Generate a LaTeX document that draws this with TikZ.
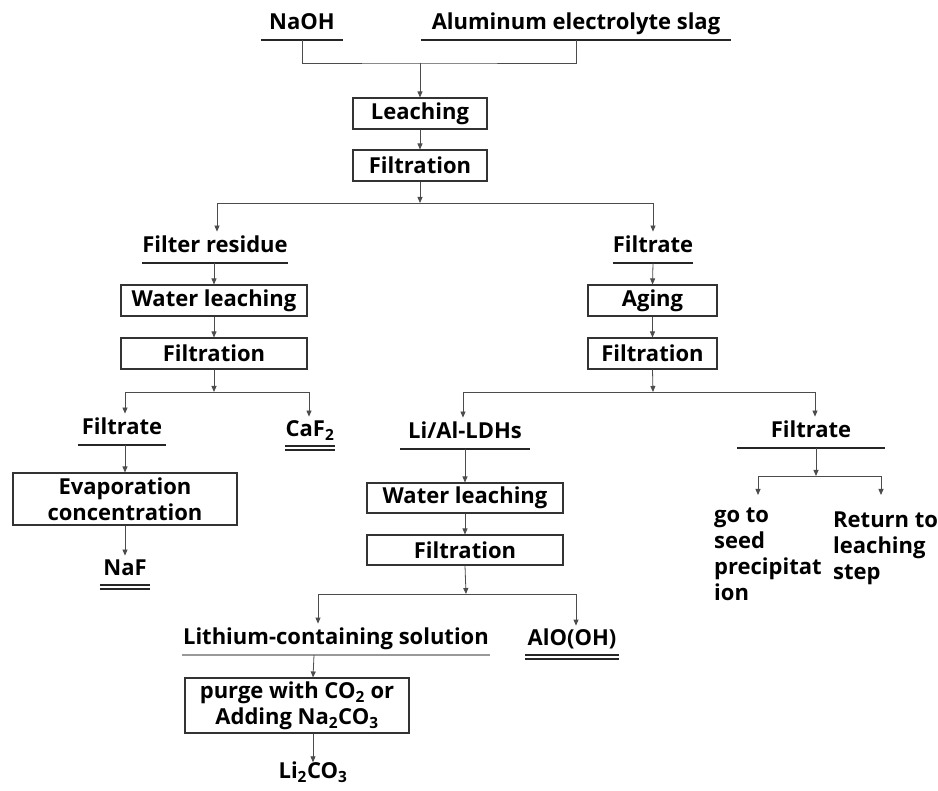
\documentclass[tikz,border=0pt]{standalone}
\usepackage{fontspec}
\setmainfont{Open Sans}
\usetikzlibrary{arrows.meta}

\begin{document}
\begin{tikzpicture}[
    x=1pt, y=-1pt,
    >={Triangle[length=6pt,width=5pt]},
    line/.style={draw=black!70, line width=0.8pt},
    arr/.style={line, ->},
    ul/.style={draw=black!85, line width=1.3pt},
    stepbox/.style={draw=black!80, line width=1.1pt, rectangle, minimum height=31, inner sep=0, align=center, font=\bfseries\fontsize{22}{26}\selectfont},
    prod/.style={anchor=south, inner xsep=0, inner ysep=5, text height=16, text depth=5, font=\bfseries\fontsize{22}{26}\selectfont},
    note/.style={anchor=north west, inner sep=0, align=left, font=\bfseries\fontsize{22}{26}\selectfont}
]
\useasboundingbox (0,0) rectangle (938,791);

% Raw materials
\node[prod, minimum width=82] (naoh) at (302,40) {NaOH};
\node[prod, minimum width=310] (als) at (576,40) {Aluminum electrolyte slag};
\draw[ul] (naoh.south west) -- (naoh.south east);
\draw[ul] (als.south west) -- (als.south east);
\coordinate (j0) at (420,63);

% Alkaline leaching
\node[stepbox, minimum width=134] (leach) at (420,113.5) {Leaching};
\node[stepbox, minimum width=134] (filt1) at (420,165.5) {Filtration};
\coordinate (b1) at (420,203);

% Left branch
\node[prod, minimum width=144] (res) at (215,263) {Filter residue};
\draw[ul] (res.south west) -- (res.south east);
\node[stepbox, minimum width=186] (wl1) at (214,300.5) {Water leaching};
\node[stepbox, minimum width=186] (filt2) at (214,353.5) {Filtration};
\coordinate (b2) at (214,392);
\node[prod, minimum width=88] (fil2) at (122,445) {Filtrate};
\draw[ul] (fil2.south west) -- (fil2.south east);
\node[prod, minimum width=47, inner ysep=4] (caf) at (310,446) {CaF\textsubscript{2}};
\draw[ul] (caf.south west) -- (caf.south east);
\draw[ul] ([yshift=-4]caf.south west) -- ([yshift=-4]caf.south east);
\node[stepbox, minimum width=224, minimum height=52] (evap) at (125,499) {Evaporation\\concentration};
\node[prod, minimum width=50, inner ysep=4] (naf) at (125,585) {NaF};
\draw[ul] (naf.south west) -- (naf.south east);
\draw[ul] ([yshift=-4]naf.south west) -- ([yshift=-4]naf.south east);

% Right branch
\node[prod, minimum width=78] (fil1) at (653,263) {Filtrate};
\draw[ul] (fil1.south west) -- (fil1.south east);
\node[stepbox, minimum width=129] (aging) at (652.5,300.5) {Aging};
\node[stepbox, minimum width=129] (filt3) at (652.5,353.5) {Filtration};
\coordinate (b3) at (653,392);
\node[prod, minimum width=130] (ldh) at (465,449) {Li/Al-LDHs};
\draw[ul] (ldh.south west) -- (ldh.south east);
\node[stepbox, minimum width=196, minimum height=30] (wl2) at (465,498) {Water leaching};
\node[stepbox, minimum width=196, minimum height=30] (filt4) at (465,550) {Filtration};
\coordinate (b4) at (466,594);
\node[prod, minimum width=308] (lis) at (336,655) {Lithium-containing solution};
\draw[ul, draw=black!40] (lis.south west) -- (lis.south east);
\node[prod, minimum width=93, inner ysep=4] (alo) at (572,655) {AlO(OH)};
\draw[ul] (alo.south west) -- (alo.south east);
\draw[ul] ([yshift=-4]alo.south west) -- ([yshift=-4]alo.south east);
\node[stepbox, minimum width=224, minimum height=55] (purge) at (297,705.5) {purge with CO\textsubscript{2} or\\Adding Na\textsubscript{2}CO\textsubscript{3}};
\node[prod, anchor=center, inner ysep=0] (li2) at (313,773) {Li\textsubscript{2}CO\textsubscript{3}};

% Second filtrate
\node[prod, minimum width=148] (fil3) at (811,448) {Filtrate};
\draw[ul] (fil3.south west) -- (fil3.south east);
\coordinate (b5) at (816,476);
\node[note] (go) at (714,508) {go to\\seed\\precipitat\\ion};
\node[note] (ret) at (833,512) {Return to\\leaching\\step};

% Connections
\draw[line] (naoh.south) |- (j0) -| (als.south);
\draw[arr] (j0) -- (leach.north);
\draw[arr] (leach.south) -- (filt1.north);
\draw[arr] (filt1.south) -- (b1);
\draw[arr] (b1) -| ([xshift=2]res.north);
\draw[arr] (b1) -| (fil1.north);

\draw[arr] (wl1.north |- res.south) -- (wl1.north);
\draw[arr] (wl1.south) -- (filt2.north);
\draw[arr] (filt2.south) -- (b2);
\draw[arr] (b2) -| ([xshift=3]fil2.north);
\draw[arr] (b2) -| ([xshift=-1]caf.north);
\draw[arr] (evap.north |- fil2.south) -- (evap.north);
\draw[arr] (evap.south) -- (naf.north);

\draw[arr] (fil1.south) -- (aging.north);
\draw[arr] (aging.south) -- (filt3.north);
\draw[arr] (filt3.south) -- (b3);
\draw[arr] (b3) -| ([xshift=-2]ldh.north);
\draw[arr] (b3) -| ([xshift=4]fil3.north);
\draw[arr] (ldh.south) -- (wl2.north);
\draw[arr] (wl2.south) -- (filt4.north);
\draw[arr] (filt4.south) -- (b4);
\draw[arr] (b4) -| ([xshift=-18]lis.north);
\draw[arr] (b4) -| ([xshift=4]alo.north);
\draw[arr] ([xshift=-22]lis.south) -- ([xshift=16]purge.north);
\draw[arr] ([xshift=16]purge.south) -- (li2.north);

\draw[arr] ([xshift=5]fil3.south) -- (b5);
\draw[arr] (b5) -| ([xshift=44,yshift=13]go.north west);
\draw[arr] (b5) -| ([xshift=48,yshift=17]ret.north west);

\end{tikzpicture}
\end{document}
